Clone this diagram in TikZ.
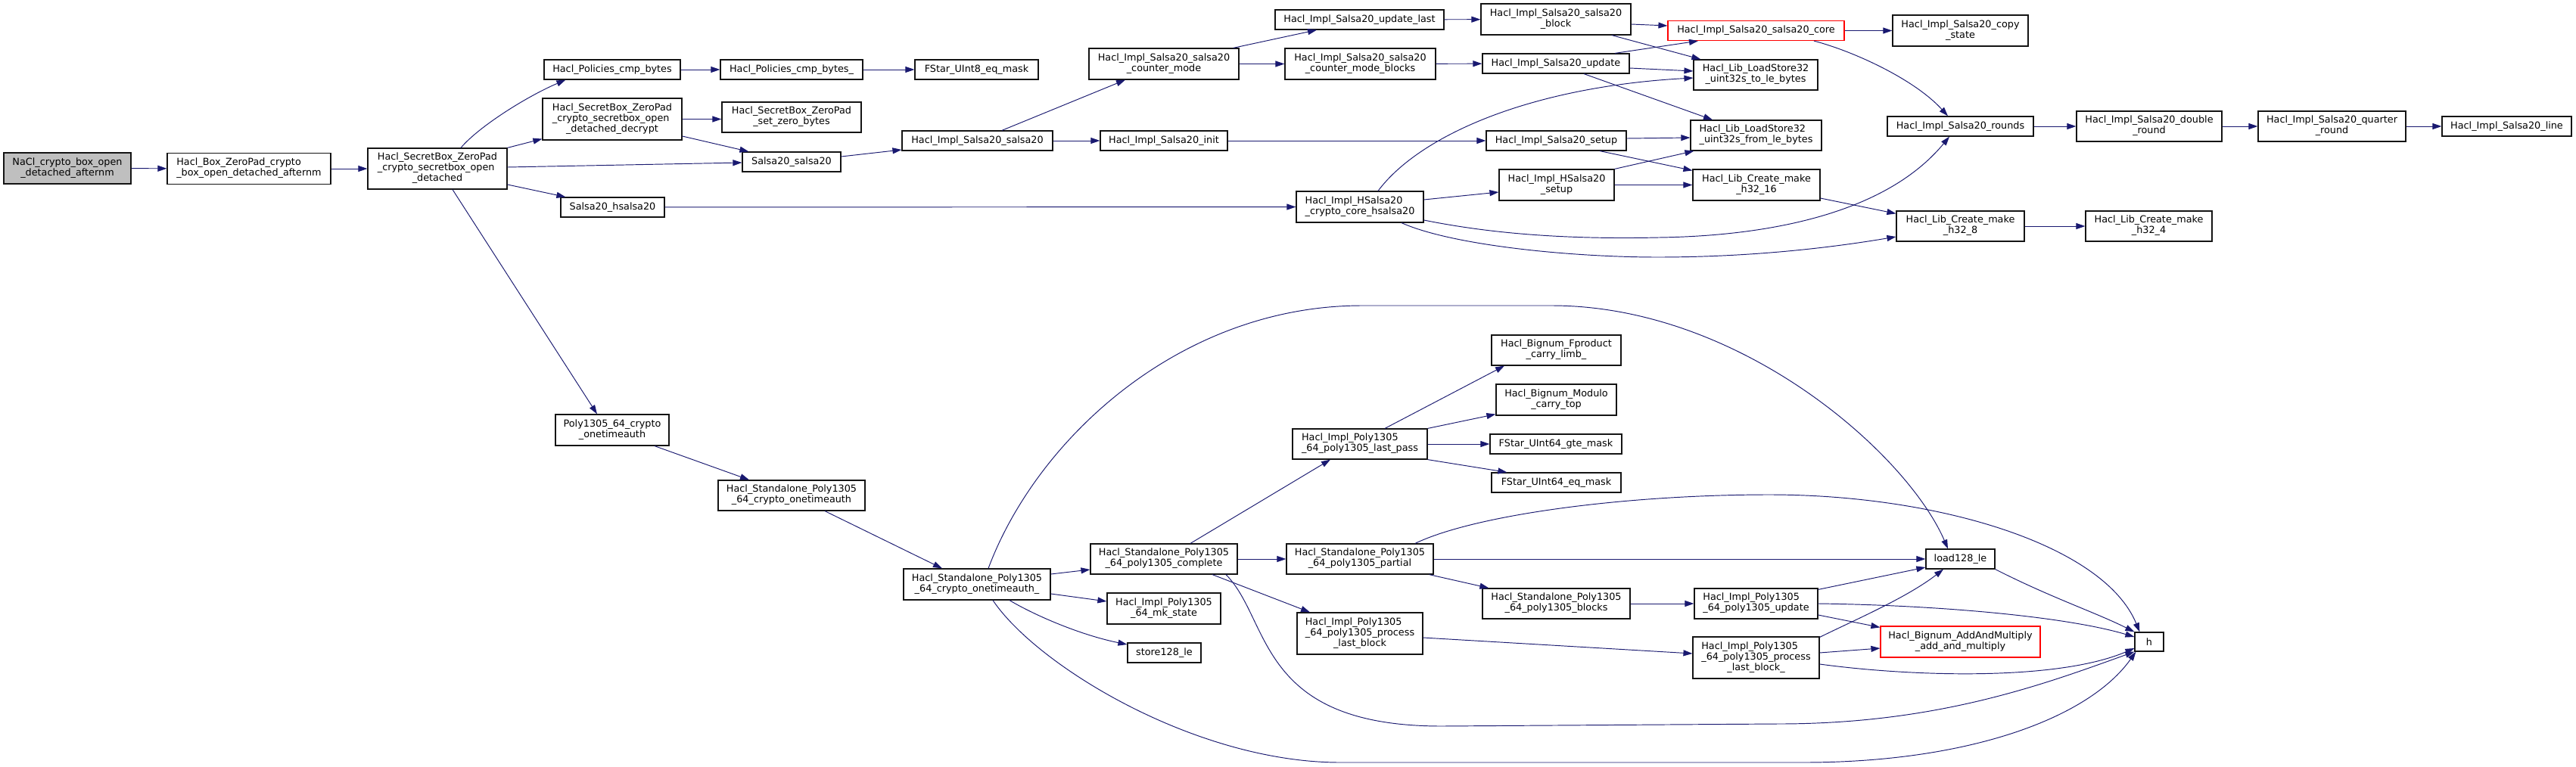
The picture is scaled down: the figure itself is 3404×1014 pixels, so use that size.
\documentclass[tikz,border=0pt]{standalone}
\usepackage{fontspec}
\usetikzlibrary{arrows.meta,calc}
\newfontfamily\gfont{DejaVu Sans}
\newcommand\gfs{\gfont\fontsize{12.8pt}{14pt}\selectfont}
\newcommand\lii[2]{\begin{tabular}{@{}l@{}}#1\\\multicolumn{1}{@{}c@{}}{#2}\end{tabular}}
\newcommand\liii[3]{\begin{tabular}{@{}l@{}}#1\\#2\\\multicolumn{1}{@{}c@{}}{#3}\end{tabular}}
\definecolor{edgeblue}{RGB}{25,25,112}
\definecolor{greyfill}{RGB}{191,191,191}
\definecolor{boxline}{RGB}{20,20,20}
\tikzset{
  fn/.style={draw=boxline, line width=1.2pt, fill=white, inner sep=0pt, font=\gfs},
  redbox/.style={draw=red},
  greybox/.style={fill=greyfill},
  arr/.style={draw=edgeblue, line width=0.95pt, -{Triangle[length=12pt,width=8pt]}},
}
\newcommand\nd[6][]{\node[fn,#1,minimum width=#4pt,minimum height=#5pt] (#2) at (#3) {#6};}
\begin{document}
\begin{tikzpicture}[x=1pt,y=-1pt]
\fill[white] (0,0) rectangle (3404,1014);
\useasboundingbox (0,0) rectangle (3404,1014);
% nodes
\nd[greybox]{nacl}{89,222.5}{168}{41}{\lii{NaCl\_crypto\_box\_open}{\_detached\_afternm}}
\nd{hbox}{329,223}{216}{41}{\lii{Hacl\_Box\_ZeroPad\_crypto}{\_box\_open\_detached\_afternm}}
\nd{odet}{578,223}{184}{54}{\liii{Hacl\_SecretBox\_ZeroPad}{\_crypto\_secretbox\_open}{\_detached}}
\nd{cmpb}{809,92}{180}{26}{Hacl\_Policies\_cmp\_bytes}
\nd{decr}{809,157.5}{184}{55}{\liii{Hacl\_SecretBox\_ZeroPad}{\_crypto\_secretbox\_open}{\_detached\_decrypt}}
\nd{cmpbu}{1046,92}{188}{26}{Hacl\_Policies\_cmp\_bytes\_}
\nd{setz}{1046,155}{184}{40}{\lii{Hacl\_SecretBox\_ZeroPad}{\_set\_zero\_bytes}}
\nd{s20}{1046,214}{130}{26}{Salsa20\_salsa20}
\nd{hs20}{809.5,274}{137}{26}{Salsa20\_hsalsa20}
\nd{u8eq}{1290.5,92}{163}{26}{FStar\_UInt8\_eq\_mask}
\nd{ctrm}{1538,84.5}{198}{41}{\lii{Hacl\_Impl\_Salsa20\_salsa20}{\_counter\_mode}}
\nd{is20}{1291.5,186}{199}{26}{Hacl\_Impl\_Salsa20\_salsa20}
\nd{init}{1538,186}{168}{26}{Hacl\_Impl\_Salsa20\_init}
\nd{updl}{1796.5,26}{223}{26}{Hacl\_Impl\_Salsa20\_update\_last}
\nd{ctrb}{1797.5,84.5}{199}{41}{\lii{Hacl\_Impl\_Salsa20\_salsa20}{\_counter\_mode\_blocks}}
\nd{hcore}{1797,273.5}{168}{41}{\lii{Hacl\_Impl\_HSalsa20}{\_crypto\_core\_hsalsa20}}
\nd{blk}{2056,25.5}{198}{41}{\lii{Hacl\_Impl\_Salsa20\_salsa20}{\_block}}
\nd{upd}{2056,84}{194}{26}{Hacl\_Impl\_Salsa20\_update}
\nd{setup}{2056.5,186}{185}{26}{Hacl\_Impl\_Salsa20\_setup}
\nd{hsetup}{2057,244.5}{152}{41}{\lii{Hacl\_Impl\_HSalsa20}{\_setup}}
\nd[redbox]{core}{2320.5,40.5}{233}{26}{Hacl\_Impl\_Salsa20\_salsa20\_core}
\nd{copy}{2590.5,40.5}{179}{41}{\lii{Hacl\_Impl\_Salsa20\_copy}{\_state}}
\nd{tole}{2320,99}{164}{40}{\lii{Hacl\_Lib\_LoadStore32}{\_uint32s\_to\_le\_bytes}}
\nd{frle}{2320.5,179}{173}{40}{\lii{Hacl\_Lib\_LoadStore32}{\_uint32s\_from\_le\_bytes}}
\nd{h16}{2321,244.5}{168}{41}{\lii{Hacl\_Lib\_Create\_make}{\_h32\_16}}
\nd{rnds}{2590.5,167}{193}{26}{Hacl\_Impl\_Salsa20\_rounds}
\nd{dbl}{2840,167}{192}{40}{\lii{Hacl\_Impl\_Salsa20\_double}{\_round}}
\nd{qtr}{3081.5,167}{195}{40}{\lii{Hacl\_Impl\_Salsa20\_quarter}{\_round}}
\nd{sline}{3312.5,167}{171}{26}{Hacl\_Impl\_Salsa20\_line}
\nd{h8}{2590.5,299}{169}{40}{\lii{Hacl\_Lib\_Create\_make}{\_h32\_8}}
\nd{h4}{2839.5,299}{167}{40}{\lii{Hacl\_Lib\_Create\_make}{\_h32\_4}}
\nd{poly}{809,568.5}{150}{41}{\lii{Poly1305\_64\_crypto}{\_onetimeauth}}
\nd{sota}{1046,655}{194}{40}{\lii{Hacl\_Standalone\_Poly1305}{\_64\_crypto\_onetimeauth}}
\nd{sotu}{1291,772.5}{194}{41}{\lii{Hacl\_Standalone\_Poly1305}{\_64\_crypto\_onetimeauth\_}}
\nd{cmpl}{1538,739}{194}{40}{\lii{Hacl\_Standalone\_Poly1305}{\_64\_poly1305\_complete}}
\nd{mk}{1538,804.5}{150}{41}{\lii{Hacl\_Impl\_Poly1305}{\_64\_mk\_state}}
\nd{store}{1538.5,863}{97}{26}{store128\_le}
\nd{lpass}{1797,587}{178}{40}{\lii{Hacl\_Impl\_Poly1305}{\_64\_poly1305\_last\_pass}}
\nd{part}{1797,739}{194}{40}{\lii{Hacl\_Standalone\_Poly1305}{\_64\_poly1305\_partial}}
\nd{plb}{1797,837.5}{166}{55}{\liii{Hacl\_Impl\_Poly1305}{\_64\_poly1305\_process}{\_last\_block}}
\nd{fprod}{2056.5,463}{171}{40}{\lii{Hacl\_Bignum\_Fproduct}{\_carry\_limb\_}}
\nd{modc}{2056.5,528.5}{159}{41}{\lii{Hacl\_Bignum\_Modulo}{\_carry\_top}}
\nd{gte}{2056,587}{174}{26}{FStar\_UInt64\_gte\_mask}
\nd{eqm}{2056.5,638}{171}{26}{FStar\_UInt64\_eq\_mask}
\nd{blks}{2056.5,798}{195}{40}{\lii{Hacl\_Standalone\_Poly1305}{\_64\_poly1305\_blocks}}
\nd{load}{2590.5,739}{91}{26}{load128\_le}
\nd{hh}{2840,848.5}{38}{25}{h}
\nd{pupd}{2320.5,798}{163}{40}{\lii{Hacl\_Impl\_Poly1305}{\_64\_poly1305\_update}}
\nd{plbu}{2320.5,869.5}{167}{55}{\liii{Hacl\_Impl\_Poly1305}{\_64\_poly1305\_process}{\_last\_block\_}}
\nd[redbox]{addm}{2590.5,848.5}{211}{41}{\lii{Hacl\_Bignum\_AddAndMultiply}{\_add\_and\_multiply}}
% edges: salsa part
\draw[arr] (nacl) -- (hbox);
\draw[arr] (hbox) -- (odet);
\draw[arr] ($(odet.north)+(31,0)$) .. controls (632,168) and (695,128) .. ($(cmpb.south west)+(29,0)$);
\draw[arr] (odet.north east) -- ($(decr.south west)+(0,-2)$);
\draw[arr] ($(odet.east)+(0,-2)$) -- ($(s20.west)+(0,1)$);
\draw[arr] ($(odet.east)+(0,21)$) -- ($(hs20.north west)+(7,0)$);
\draw[arr] ($(odet.south)+(20,0)$) -- ($(poly.north)+(-20,0)$);
\draw[arr] (cmpb) -- (cmpbu);
\draw[arr] (cmpbu) -- (u8eq);
\draw[arr] (decr.east) -- (decr.east -| setz.west);
\draw[arr] ($(decr.east)+(0,22.5)$) -- ($(s20.north west)+(9,0)$);
\draw[arr] ($(s20.east)+(0,-7)$) -- ($(is20.west)+(0,12)$);
\draw[arr] (hs20) -- (hcore);
\draw[arr] ($(is20.north)+(32.5,0)$) -- ($(ctrm.south)+(-51,0)$);
\draw[arr] (is20) -- (init);
\draw[arr] ($(ctrm.north east)+(-8,0)$) -- ($(updl.south)+(-56.5,0)$);
\draw[arr] (ctrm) -- (ctrb);
\draw[arr] (init) -- (setup);
\draw[arr] (updl) -- (blk);
\draw[arr] (ctrb) -- (upd);
\draw[arr] ($(blk.east)+(0,6.5)$) -- ($(core.west)+(0,-6.5)$);
\draw[arr] ($(blk.south)+(74,0)$) -- ($(tole.north west)+(10,0)$);
\draw[arr] ($(upd.north)+(78,0)$) -- ($(core.south)+(-76.5,0)$);
\draw[arr] ($(upd.east)+(0,6)$) -- ($(tole.west)+(0,-5)$);
\draw[arr] ($(upd.south)+(37,0)$) -- ($(frle.north)+(-57.5,0)$);
\draw[arr] ($(hcore.north)+(24,0)$) .. controls (1875,180) and (2020,115) .. ($(tole.west)+(0,4)$);
\draw[arr] ($(hcore.east)+(0,-9.5)$) -- ($(hsetup.west)+(0,9.5)$);
\draw[arr] ($(hcore.east)+(0,17.5)$) .. controls (1990,313) and (2100,316) .. (2192,314) .. controls (2330,312) and (2490,285) .. ($(rnds.south)+(-14.5,0)$);
\draw[arr] ($(hcore.south)+(55,0)$) .. controls (1920,325) and (2080,340) .. (2190,340) .. controls (2330,340) and (2440,324) .. ($(h8.west)+(0,14)$);
\draw[arr] ($(setup.east)+(0,-3)$) -- ($(frle.west)+(0,3)$);
\draw[arr] ($(setup.south)+(57.5,0)$) -- ($(h16.north west)+(0,2)$);
\draw[arr] (hsetup.north east) -- ($(frle.south west)+(5,0)$);
\draw[arr] (hsetup) -- (h16);
\draw[arr] (core) -- (copy);
\draw[arr] ($(core.south)+(76.5,0)$) .. controls (2450,68) and (2530,105) .. ($(rnds.north)+(-16.5,0)$);
\draw[arr] (rnds) -- (dbl);
\draw[arr] (dbl) -- (qtr);
\draw[arr] (qtr) -- (sline);
\draw[arr] ($(h16.east)+(0,17.5)$) -- ($(h8.north west)+(0,4)$);
\draw[arr] (h8) -- (h4);
% edges: poly part
\draw[arr] ($(poly.south)+(56,0)$) -- ($(sota.north)+(-56,0)$);
\draw[arr] ($(sota.south)+(44,0)$) -- ($(sotu.north)+(-46,0)$);
\draw[arr] ($(sotu.north)+(15,0)$) .. controls (1370,580) and (1560,404) .. (1800,404) -- (2050,404) .. controls (2300,404) and (2520,600) .. ($(load.north)+(-16.5,0)$);
\draw[arr] ($(sotu.east)+(0,-13.5)$) -- ($(cmpl.west)+(0,14)$);
\draw[arr] ($(sotu.east)+(0,12.5)$) -- ($(mk.west)+(0,-9.5)$);
\draw[arr] ($(sotu.south)+(43,0)$) .. controls (1370,815) and (1430,840) .. ($(store.west)+(0,-11)$);
\draw[arr] ($(sotu.south)+(21,0)$) .. controls (1370,880) and (1580,1008) .. (1771,1008) -- (2383,1008) .. controls (2600,1008) and (2760,950) .. ($(hh.south west)+(2,0)$);
\draw[arr] ($(cmpl.north)+(35,0)$) -- ($(lpass.south)+(-39,0)$);
\draw[arr] (cmpl) -- (part);
\draw[arr] ($(cmpl.south)+(64,0)$) -- ($(plb.north)+(-66,0)$);
\draw[arr] ($(cmpl.south)+(82,0)$) .. controls (1680,820) and (1660,960) .. (1905,960) -- (2350,957) .. controls (2560,957) and (2700,905) .. (hh.south west);
\draw[arr] ($(lpass.north)+(33,0)$) -- ($(fprod.south)+(-68.5,0)$);
\draw[arr] (lpass.north east) -- ($(modc.south west)+(0,-2)$);
\draw[arr] (lpass) -- (gte);
\draw[arr] (lpass.south east) -- ($(eqm.north west)+(21,0)$);
\draw[arr] (part) -- (load);
\draw[arr] ($(part.south east)+(-6,0)$) -- ($(blks.north west)+(9,0)$);
\draw[arr] ($(part.north)+(73,0)$) .. controls (1950,680) and (2150,654) .. (2338,654) .. controls (2560,654) and (2780,720) .. ($(hh.north west)+(7,0)$);
\draw[arr] (blks) -- (pupd);
\draw[arr] ($(plb.east)+(0,5.5)$) -- ($(plbu.west)+(0,-5.5)$);
\draw[arr] ($(pupd.north east)+(0,2)$) -- ($(load.west)+(0,11)$);
\draw[arr] (pupd.east) .. controls (2560,800) and (2730,815) .. ($(hh.west)+(0,-6.5)$);
\draw[arr] ($(pupd.east)+(0,15)$) -- ($(addm.north west)+(0,2)$);
\draw[arr] ($(plbu.north east)+(0,1)$) .. controls (2450,820) and (2520,790) .. ($(load.south)+(-22.5,0)$);
\draw[arr] ($(plbu.east)+(0,-6.5)$) -- ($(addm.west)+(0,8.5)$);
\draw[arr] ($(plbu.east)+(0,8.5)$) .. controls (2530,895) and (2720,900) .. ($(hh.west)+(0,8.5)$);
\draw[arr] (load.south east) .. controls (2710,790) and (2770,810) .. (hh.north west);
\end{tikzpicture}
\end{document}
